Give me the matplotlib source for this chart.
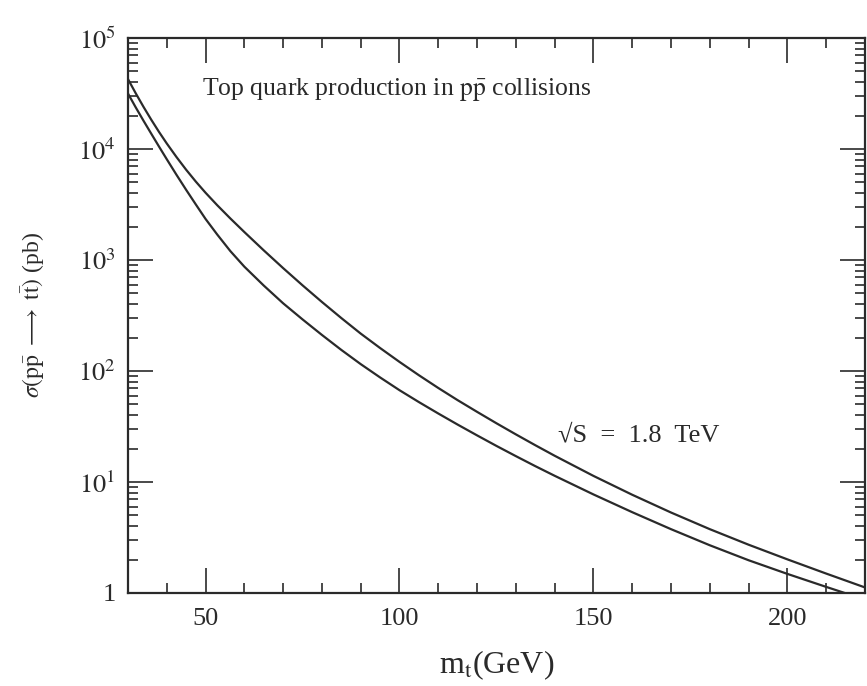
import numpy as np
import matplotlib
matplotlib.use("Agg")
from matplotlib import pyplot as plt
from matplotlib.ticker import FixedLocator, FixedFormatter, LogLocator, NullFormatter, MultipleLocator

# top mass (GeV) and log10 of cross section (pb)
m_upper = [30, 32, 34, 36, 38, 40, 42.5, 45, 47.5, 50, 53, 56.4, 60, 65, 70, 75, 80, 85,
           90, 95, 100, 105, 110, 115, 120, 125, 130, 135, 140, 150, 160, 170, 180, 190,
           200, 210, 220]
logsig_upper = [4.63, 4.502, 4.38, 4.264, 4.154, 4.05, 3.928, 3.813, 3.706, 3.606, 3.494, 3.374,
                3.252, 3.087, 2.927, 2.772, 2.622, 2.477, 2.337, 2.207, 2.082, 1.962, 1.847,
                1.737, 1.632, 1.529, 1.429, 1.3315, 1.2365, 1.055, 0.885, 0.725, 0.575,
                0.435, 0.303, 0.175, 0.05]

m_lower = [30, 32, 34, 36, 38, 40, 42.5, 45, 47.5, 50, 53, 56.4, 60, 65, 70, 75, 80, 85,
           90, 95, 100, 105, 110, 115, 120, 125, 130, 135, 140, 150, 160, 170, 180, 190,
           200, 210, 220]
logsig_lower = [4.50, 4.375, 4.255, 4.138, 4.022, 3.908, 3.768, 3.632, 3.50, 3.37, 3.23, 3.08,
                2.94, 2.77, 2.61, 2.465, 2.325, 2.19, 2.062, 1.942, 1.827, 1.72, 1.617, 1.517,
                1.42, 1.325, 1.233, 1.143, 1.056, 0.888, 0.728, 0.575, 0.43, 0.295, 0.172,
                0.055, -0.06]

ytick_vals = [1, 1e1, 1e2, 1e3, 1e4, 1e5]
ytick_labels = ["1", "$10^1$", "$10^2$", "$10^3$", "$10^4$", "$10^5$"]
xtick_vals = [50, 100, 150, 200]

plt.rcParams['font.family'] = ['Liberation Serif', 'DejaVu Serif']
plt.rcParams['mathtext.fontset'] = 'stix'

ink = '#2a2a2a'

fig = plt.figure(figsize=(8.67, 6.86), dpi=100)
ax = fig.add_axes([0.1476, 0.1356, 0.85, 0.809])

ax.plot(m_upper, 10 ** np.array(logsig_upper), color=ink, lw=1.6)
ax.plot(m_lower, 10 ** np.array(logsig_lower), color=ink, lw=1.6)

ax.set_yscale('log')
ax.set_xlim(30, 220)
ax.set_ylim(1, 1e5)

ax.yaxis.set_major_locator(FixedLocator(ytick_vals))
ax.yaxis.set_major_formatter(FixedFormatter(ytick_labels))
ax.yaxis.set_minor_locator(LogLocator(base=10, subs=np.arange(2, 10)))
ax.yaxis.set_minor_formatter(NullFormatter())
ax.xaxis.set_major_locator(FixedLocator(xtick_vals))
ax.xaxis.set_minor_locator(MultipleLocator(10))

ax.tick_params(which='both', direction='in', top=True, right=True, colors=ink, width=1.2)
ax.tick_params(which='major', length=18, labelsize=19)
ax.tick_params(which='minor', length=7)
ax.tick_params(axis='x', pad=11)
ax.tick_params(axis='y', pad=9)
for sp in ax.spines.values():
    sp.set_linewidth(1.6)
    sp.set_color(ink)

ax.set_xlabel(r"m$_\mathrm{t}$(GeV)", fontsize=23, color=ink, labelpad=13)
ax.set_ylabel(r"$\sigma(\mathrm{p\bar{p}}\ \longrightarrow\ \mathrm{t\bar{t}})$ (pb)",
              fontsize=17, color=ink, labelpad=22)

ax.text(49.2, 10 ** 4.54, r"Top quark production in $\mathrm{p\bar{p}}$ collisions",
        fontsize=18.5, color=ink, ha='left', va='center')
ax.text(140.8, 26, "√S  =  1.8  TeV", fontsize=19, color=ink, ha='left', va='center')

fig.savefig('out.png', dpi=100)
